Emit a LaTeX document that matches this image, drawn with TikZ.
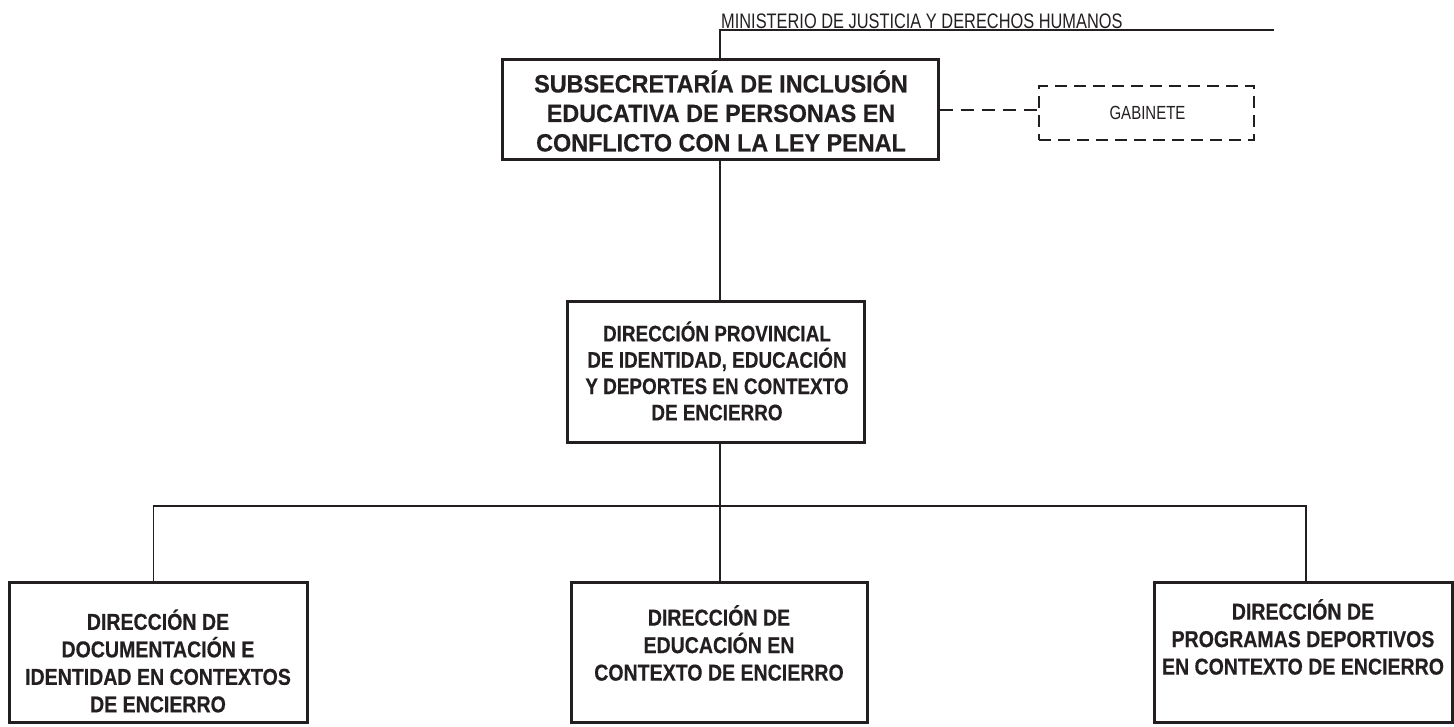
\documentclass[tikz,border=0pt]{standalone}
\usepackage{fontspec}
\newfontfamily\subfont[FakeStretch=0.935,BoldFeatures={FakeBold=0.4}]{Liberation Sans}
\newfontfamily\dpfont[FakeStretch=0.84,BoldFeatures={FakeBold=0.4}]{Liberation Sans}
\newfontfamily\lowfont[FakeStretch=0.85,BoldFeatures={FakeBold=0.4}]{Liberation Sans}
\newfontfamily\regn[FakeStretch=0.78]{Liberation Sans}
\newfontfamily\gabfont[FakeStretch=0.79]{Liberation Sans}
\definecolor{ink}{HTML}{231F20}
\begin{document}
\begin{tikzpicture}[x=1pt,y=-1pt,
  box/.style={draw=ink,line width=3pt,fill=white,rectangle,inner sep=0pt},
  dbox/.style={draw=ink,line width=2.8pt,dash pattern=on 12pt off 7pt,rectangle,inner sep=0pt},
  conn/.style={draw=ink,line width=1.3pt},
  dconn/.style={draw=ink,line width=2.8pt,dash pattern=on 13pt off 8pt},
  btxt/.style={text=ink,align=center,inner sep=0pt,font=\lowfont\bfseries\fontsize{23}{27.5}\selectfont},
  rtxt/.style={text=ink,inner sep=0pt}]
\useasboundingbox (0,0) rectangle (1454,727);
% named points of the trunk and bus
\coordinate (mtop) at (720,30);
\coordinate (mend) at (1274,30);
\coordinate (bm) at (720,506);
\coordinate (bl) at (153.7,506);
\coordinate (br) at (1306,506);
% boxes
\node[box,minimum width=436pt,minimum height=100pt] (sub) at (720,110) {};
\node[dbox,minimum width=215pt,minimum height=54pt] (gab) at (1146.5,113) {};
\node[box,minimum width=297pt,minimum height=140pt] (dp) at (715.5,372) {};
\node[box,minimum width=298pt,minimum height=140pt] (left) at (158,652) {};
\node[box,minimum width=296pt,minimum height=140pt] (mid) at (719,652) {};
\node[box,minimum width=298pt,minimum height=140pt] (right) at (1303,652) {};
% connectors
\draw[conn] (bm |- sub.north) -- (mtop) -- (mend);
\draw[conn] (bm |- sub.south) -- (bm |- dp.north);
\draw[conn] (bm |- dp.south) -- (bm |- mid.north);
\draw[conn] (bl |- left.north) -- (bl) -- (br) -- (br |- right.north);
\draw[dconn] (sub.east) -- (sub.east -| gab.west);
% texts
\node[rtxt,anchor=base west,font=\regn\fontsize{21}{24}\selectfont] (min) at (721,28.5) {MINISTERIO DE JUSTICIA Y DERECHOS HUMANOS};
\node[btxt,font=\subfont\bfseries\fontsize{25}{29.5}\selectfont] (subT) at (721,111) {SUBSECRETARÍA DE INCLUSIÓN\\EDUCATIVA DE PERSONAS EN\\CONFLICTO CON LA LEY PENAL};
\node[rtxt,font=\gabfont\fontsize{19}{21}\selectfont] (gabT) at (1147.5,113) {GABINETE};
\node[btxt,font=\dpfont\bfseries\fontsize{22.5}{26.3}\selectfont] (dpT) at (717,371) {DIRECCIÓN PROVINCIAL\\DE IDENTIDAD, EDUCACIÓN\\Y DEPORTES EN CONTEXTO\\DE ENCIERRO};
\node[btxt] (leftT) at (158,661) {DIRECCIÓN DE\\DOCUMENTACIÓN E\\IDENTIDAD EN CONTEXTOS\\DE ENCIERRO};
\node[btxt] (midT) at (719,643) {DIRECCIÓN DE\\EDUCACIÓN EN\\CONTEXTO DE ENCIERRO};
\node[btxt] (rightT) at (1303,637) {DIRECCIÓN DE\\PROGRAMAS DEPORTIVOS\\EN CONTEXTO DE ENCIERRO};
\end{tikzpicture}
\end{document}
